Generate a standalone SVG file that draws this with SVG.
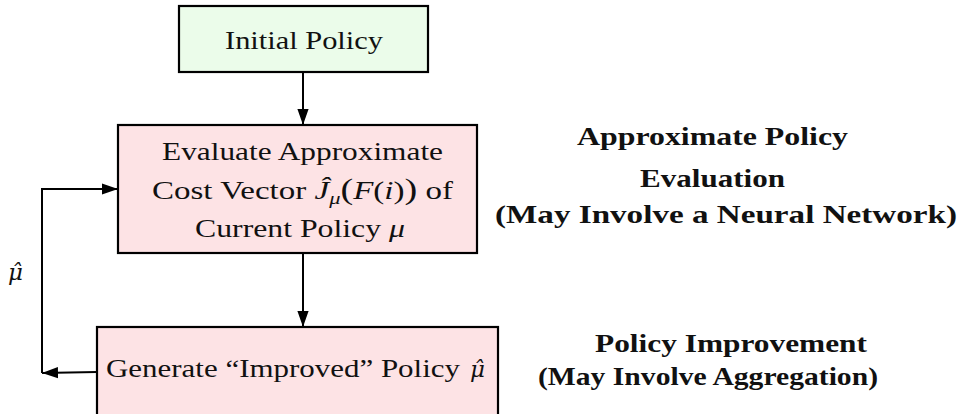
<svg xmlns="http://www.w3.org/2000/svg" width="960" height="414" viewBox="0 0 960 414">
<style>
.box{stroke:#000;stroke-width:2.2}
.green{fill:#ebfcea}
.pink{fill:#fde3e5}
.t{font-family:"Liberation Serif","DejaVu Serif",serif;font-size:25px;fill:#111}
.b{font-family:"Liberation Serif","DejaVu Serif",serif;font-size:25px;font-weight:bold;fill:#111}
.m{font-style:italic}
.h{font-family:"DejaVu Serif",serif;font-size:23px;font-style:italic;fill:#111}
.c{fill:none;stroke:#000;stroke-width:2}
</style>
<defs>
<marker id="ahb" viewBox="0 0 10 10" refX="10" refY="5" markerWidth="16" markerHeight="16" orient="auto" markerUnits="userSpaceOnUse">
<path d="M0,1.5 L10,5 L0,8.5 Z" fill="#000"/>
</marker>
</defs>
<g id="connectors">
<path class="c" d="M303,72 L303,125" marker-end="url(#ahb)"/>
<path class="c" d="M303,253 L303,327" marker-end="url(#ahb)"/>
<path class="c" d="M97,372 L42,373" marker-end="url(#ahb)"/>
<path class="c" d="M42,373 L42,189 L118,189" marker-end="url(#ahb)"/>
<text class="h" x="8" y="280">μ̂</text>
</g>
<g id="initial">
<rect class="box green" x="179" y="6" width="249" height="66"/>
<text class="t" x="225" y="49" textLength="158" lengthAdjust="spacingAndGlyphs">Initial Policy</text>
</g>
<g id="evaluate">
<rect class="box pink" x="118" y="125" width="359" height="128"/>
<text class="t" x="162" y="160" textLength="281" lengthAdjust="spacingAndGlyphs">Evaluate Approximate</text>
<text class="t" x="152" y="199" textLength="301" lengthAdjust="spacingAndGlyphs">Cost Vector <tspan class="m">Ĵ</tspan><tspan class="m" font-size="17" dy="5">μ</tspan><tspan dy="-5" font-size="29">(</tspan><tspan class="m">F</tspan>(<tspan class="m">i</tspan>)<tspan font-size="29">)</tspan> of</text>
<text class="t" x="195" y="237" textLength="210" lengthAdjust="spacingAndGlyphs">Current Policy <tspan class="m">μ</tspan></text>
</g>
<g id="generate">
<rect class="box pink" x="97" y="327" width="401" height="100"/>
<text class="t" x="106" y="377" textLength="354" lengthAdjust="spacingAndGlyphs">Generate “Improved” Policy</text>
<text class="h" x="470" y="377">μ̂</text>
</g>
<g id="labels">
<text class="b" x="577" y="145" textLength="271" lengthAdjust="spacingAndGlyphs">Approximate Policy</text>
<text class="b" x="640" y="187" textLength="145" lengthAdjust="spacingAndGlyphs">Evaluation</text>
<text class="b" x="495" y="223" textLength="462" lengthAdjust="spacingAndGlyphs">(May Involve a Neural Network)</text>
<text class="b" x="595" y="352" textLength="272" lengthAdjust="spacingAndGlyphs">Policy Improvement</text>
<text class="b" x="538" y="385" textLength="340" lengthAdjust="spacingAndGlyphs">(May Involve Aggregation)</text>
</g>
</svg>
